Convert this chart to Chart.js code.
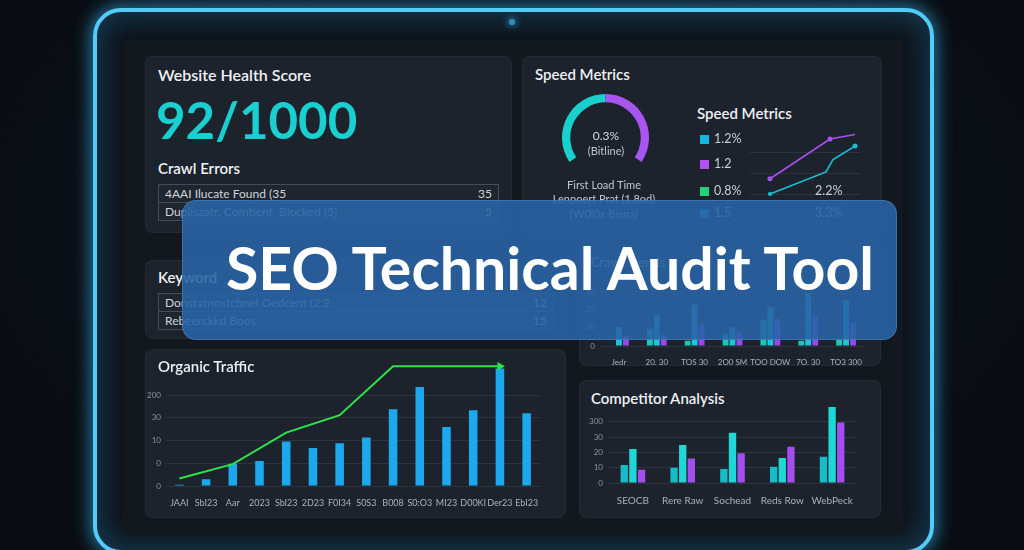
<!DOCTYPE html>
<html>
<head>
<meta charset="utf-8">
<script src="https://cdn.jsdelivr.net/npm/chart.js@4.4.0/dist/chart.umd.min.js"></script>
<style>
  html, body { margin: 0; padding: 0; width: 1024px; height: 550px; overflow: hidden; }
  body { background: radial-gradient(ellipse at 50% 40%, #101722 0%, #090d13 75%); font-family: Lato, "Noto Sans", sans-serif; position: relative; }
  .abs { position: absolute; }
  #frame { left: 93px; top: 8px; width: 833px; height: 538px; border: 4px solid #52cbf7; border-radius: 28px;
           box-shadow: 0 0 16px 4px rgba(56,180,240,.55), inset 0 0 28px 6px rgba(40,150,210,.30); background: #0d1219; }
  #screen { left: 123px; top: 40px; width: 780px; height: 495px; background: #13181f; border-radius: 3px; }
  #cam { left: 509px; top: 19px; width: 6px; height: 6px; border-radius: 50%; background: #2a8fb8; box-shadow: 0 0 6px 2px rgba(60,170,230,.5); }
  .panel { background: #1d232c; border-radius: 8px; border: 1px solid rgba(255,255,255,.04); box-sizing: border-box; }
  .txt { white-space: nowrap; }
  .title { color: #eef1f4; font-size: 15px; font-weight: 600; }
  .row { box-sizing: border-box; border: 1px solid #454d59; background: #20262f; color: #cfd4da; font-size: 12px; line-height: 17px; padding: 0 6px; }
  .row span { float: right; }
  .gray { color: #bfc5cd; font-size: 11px; }
  .leg { color: #c9ced5; font-size: 12.5px; }
  .sq { width: 9px; height: 9px; }
  #banner { left: 182px; top: 200px; width: 715px; height: 140px; border-radius: 14px; background: rgba(40,100,166,.89);
            border: 1px solid rgba(130,180,235,.25); box-sizing: border-box; }
  #bannerText { left: 226px; top: 229px; color: #ffffff; font-size: 59px; font-weight: 700; line-height: 78px; }
  canvas { display: block; }
</style>
</head>
<body>
<div id="frame" class="abs"></div>
<div id="cam" class="abs"></div>
<div id="screen" class="abs"></div>

<!-- panels -->
<div class="abs panel" style="left:145px;top:56px;width:367px;height:177px"></div>
<div class="abs panel" style="left:522px;top:56px;width:360px;height:177px"></div>
<div class="abs panel" style="left:145px;top:260px;width:421px;height:79px"></div>
<div class="abs panel" style="left:579px;top:245px;width:302px;height:121px"></div>
<div class="abs panel" style="left:145px;top:349px;width:421px;height:169px"></div>
<div class="abs panel" style="left:579px;top:380px;width:302px;height:138px"></div>

<!-- health score -->
<div class="abs txt title" style="left:158px;top:64px;font-size:16px;line-height:22px">Website Health Score</div>
<div class="abs txt" style="left:156px;top:92px;font-size:51px;font-weight:700;line-height:56px;color:#19cfcf">92/1000</div>
<div class="abs txt title" style="left:158px;top:158px;line-height:20px">Crawl Errors</div>
<div class="abs row" style="left:158px;top:184px;width:341px;height:19px">4AAI Ilucate Found (35<span>35</span></div>
<div class="abs row" style="left:158px;top:202px;width:341px;height:19px">Dupliszatr. Comtient &nbsp;Blocked (5)<span>5</span></div>

<!-- keyword -->
<div class="abs txt title" style="left:158px;top:267px;line-height:20px">Keyword</div>
<div class="abs row" style="left:158px;top:293px;width:396px;height:19px">Donstatnostcbnel Oedcent (2.2<span>12</span></div>
<div class="abs row" style="left:158px;top:311px;width:396px;height:19px">Rebeerckkd Boos<span>15</span></div>

<!-- speed metrics -->
<div class="abs txt title" style="left:535px;top:63px;line-height:22px">Speed Metrics</div>
<div class="abs" style="left:562px;top:94px"><canvas id="gauge" width="87" height="68"></canvas></div>
<div class="abs txt gray" style="left:566px;top:128px;width:80px;text-align:center;font-size:12px;line-height:16px;color:#d5d9df">0.3%</div>
<div class="abs txt gray" style="left:566px;top:143px;width:80px;text-align:center;line-height:16px">(Bitline)</div>
<div class="abs txt gray" style="left:544px;top:177px;width:120px;text-align:center;line-height:15px">First Load Time</div>
<div class="abs txt gray" style="left:534px;top:191px;width:140px;text-align:center;line-height:15px">Lenpoert Prat (1.8od)</div>
<div class="abs txt gray" style="left:544px;top:206px;width:120px;text-align:center;line-height:15px">(W0l0x Biena)</div>

<div class="abs txt title" style="left:697px;top:102px;line-height:22px">Speed Metrics</div>
<div class="abs sq" style="left:700px;top:135px;background:#13b6e0"></div>
<div class="abs txt leg" style="left:714px;top:131px;line-height:16px">1.2%</div>
<div class="abs sq" style="left:700px;top:160px;background:#b052f0"></div>
<div class="abs txt leg" style="left:714px;top:156px;line-height:16px">1.2</div>
<div class="abs sq" style="left:700px;top:187px;background:#22d27a"></div>
<div class="abs txt leg" style="left:714px;top:183px;line-height:16px">0.8%</div>
<div class="abs sq" style="left:700px;top:209px;background:#1aa6c8"></div>
<div class="abs txt leg" style="left:714px;top:205px;line-height:16px">1.5</div>
<div class="abs txt leg" style="left:815px;top:183px;line-height:16px">2.2%</div>
<div class="abs txt leg" style="left:815px;top:205px;line-height:16px">3.3%</div>
<div class="abs" style="left:745px;top:120px"><canvas id="speed" width="120" height="80"></canvas></div>

<!-- middle right panel -->
<div class="abs txt title" style="left:591px;top:252px;line-height:20px;font-size:13px;color:#9aa3ad">Crawl Trends</div>
<div class="abs" style="left:579px;top:245px"><canvas id="mid" width="302" height="121"></canvas></div>

<!-- organic traffic -->
<div class="abs" style="left:145px;top:349px"><canvas id="traffic" width="421" height="169"></canvas></div>
<div class="abs txt title" style="left:158px;top:356px;line-height:20px">Organic Traffic</div>

<!-- competitor -->
<div class="abs txt title" style="left:591px;top:388px;line-height:20px">Competitor Analysis</div>
<div class="abs" style="left:579px;top:380px"><canvas id="comp" width="302" height="138"></canvas></div>

<!-- banner -->
<div id="banner" class="abs"></div>
<div id="bannerText" class="abs txt">SEO Technical Audit Tool</div>

<script>
// organic traffic
const trafficLabels = ['JAAI', 'SbI23', 'Aar', '2023', 'SbI23', '2D23', 'F0I34', 'S0S3', 'B008', 'S0:O3', 'MI23', 'D00KI', 'Der23', 'EbI23'];
const trafficBars = [0.6, 3, 9.8, 11, 19.6, 16.7, 18.8, 21.4, 33.8, 43.6, 26, 33.3, 51.7, 32];
const trafficTrend = [3.3, null, 9.6, null, 23.5, null, 31.2, null, 52.7, null, null, null, 52.7, null];
const trafficTicks = [0, 10, 20, 30, 40];
const trafficTickLabels = ['0', '0', '10', '30', '200'];

// competitor analysis
const compLabels = ['SEOCB', 'Rere Raw', 'Sochead', 'Reds Row', 'WebPeck'];
const compA = [11.8, 10, 9.2, 10.7, 17.2];
const compB = [22.2, 24.9, 32.9, 16.3, 49.7];
const compC = [8.6, 16, 19.5, 23.7, 39.6];
const compTicks = [0, 10, 20, 30, 40];
const compTickLabels = ['0', '10', '20', '30', '300'];

// middle panel
const midLabels = ['Jedr', '20. 30', 'TOS 30', '2O0 SM', 'TOO DOW', '7O. 30', 'TO3 300'];
const midA = [null, 9.5, 2.9, 6.7, 14.2, 2.9, 3.7];
const midB = [10.5, 16.9, 22.7, 10.2, 21.2, 29, 24.9];
const midC = [5.4, 6, 12.2, 7.4, 15, 16.5, 12.7];
const midTicks = [0, 10, 20, 30];
const midTickLabels = ['0', '10', '20', '30'];

// speed metrics
const gaugeValues = [50, 50];
const purpleX = [2, 8, 10.5];
const purpleY = [0.73, 2.64, 2.86];
const cyanX = [2, 7.6, 8.3, 10.5];
const cyanY = [0, 1.06, 1.65, 2.3];
const speedGrid = [0, 1, 2];

Chart.defaults.font.family = 'Lato, "Noto Sans", sans-serif';
Chart.defaults.animation = false;

const GRID = 'rgba(255,255,255,0.08)';
const fixTicks = vals => scale => { scale.ticks = vals.map(v => ({ value: v })); };

function barOpts(yMax, yTicks, yLabels, yWidth, xHeight, pad, xFont) {
  return {
    responsive: false,
    maintainAspectRatio: false,
    layout: { padding: pad },
    plugins: { legend: { display: false }, tooltip: { enabled: false } },
    scales: {
      x: {
        grid: { display: false },
        border: { display: false },
        ticks: { color: '#aab1bb', font: { size: xFont }, padding: 4, maxRotation: 0, autoSkip: false },
        afterFit: s => { s.height = xHeight; }
      },
      y: {
        min: 0, max: yMax,
        afterBuildTicks: fixTicks(yTicks),
        afterFit: s => { s.width = yWidth; },
        grid: { color: GRID, drawTicks: false },
        border: { display: false },
        ticks: { color: '#8b939e', font: { size: 8 }, padding: 5, callback: (v, i) => yLabels[i] }
      }
    }
  };
}

// Organic traffic: bars + trend arrow
new Chart(document.getElementById('traffic'), {
  data: {
    labels: trafficLabels,
    datasets: [
      {
        type: 'line', order: 0, data: trafficTrend, spanGaps: true,
        borderColor: '#2ee24c', borderWidth: 2, tension: 0,
        pointStyle: 'triangle', pointRotation: 90,
        pointRadius: ctx => ctx.dataIndex === 12 ? 5 : 0,
        pointBackgroundColor: '#2ee24c', pointBorderWidth: 0
      },
      { type: 'bar', order: 1, data: trafficBars, backgroundColor: '#1ba8ee', barPercentage: 0.32, categoryPercentage: 1 }
    ]
  },
  options: barOpts(56, trafficTicks, trafficTickLabels, 21, 32, { top: 5, right: 26 }, 9)
});

// Competitor analysis
new Chart(document.getElementById('comp'), {
  type: 'bar',
  data: {
    labels: compLabels,
    datasets: [
      { data: compA, backgroundColor: '#17bcc9', barPercentage: 0.85, categoryPercentage: 0.52 },
      { data: compB, backgroundColor: '#1ed7d6', barPercentage: 0.85, categoryPercentage: 0.52 },
      { data: compC, backgroundColor: '#a54ef0', barPercentage: 0.85, categoryPercentage: 0.52 }
    ]
  },
  options: barOpts(61, compTicks, compTickLabels, 29, 35, { right: 24 }, 10)
});

// Middle panel (behind the banner)
new Chart(document.getElementById('mid'), {
  type: 'bar',
  data: {
    labels: midLabels,
    datasets: [
      { data: midA, backgroundColor: '#17c9b6', barPercentage: 0.85, categoryPercentage: 0.55 },
      { data: midB, backgroundColor: '#1cc4dc', barPercentage: 0.85, categoryPercentage: 0.55 },
      { data: midC, backgroundColor: '#9b45ec', barPercentage: 0.85, categoryPercentage: 0.55 }
    ]
  },
  options: barOpts(50, midTicks, midTickLabels, 21, 20, { right: 16 }, 8)
});

// Gauge
new Chart(document.getElementById('gauge'), {
  type: 'doughnut',
  data: { datasets: [{ data: gaugeValues, backgroundColor: ['#19d0cc', '#a955f2'], borderWidth: 0 }] },
  options: {
    responsive: false, rotation: -124, circumference: 248, cutout: '81%',
    plugins: { legend: { display: false }, tooltip: { enabled: false } }
  }
});

// Speed trend lines
new Chart(document.getElementById('speed'), {
  type: 'line',
  data: {
    datasets: [
      {
        data: purpleX.map((x, i) => ({ x, y: purpleY[i] })),
        borderColor: '#a552f0', borderWidth: 1.6, backgroundColor: '#a552f0',
        pointRadius: [2.5, 2.5, 0], pointBorderWidth: 0
      },
      {
        data: cyanX.map((x, i) => ({ x, y: cyanY[i] })),
        borderColor: '#18c2d8', borderWidth: 1.6, backgroundColor: '#18c2d8',
        pointRadius: [2, 0, 0, 2.5], pointBorderWidth: 0
      }
    ]
  },
  options: {
    responsive: false,
    clip: false,
    layout: { padding: { left: 5, right: 5, bottom: 6 } },
    plugins: { legend: { display: false }, tooltip: { enabled: false } },
    scales: {
      x: { type: 'linear', min: 0, max: 11, display: false },
      y: {
        min: 0, max: 3.36,
        afterBuildTicks: fixTicks(speedGrid),
        afterFit: s => { s.width = 0; },
        grid: { color: GRID, drawTicks: false },
        border: { display: false },
        ticks: { display: false }
      }
    }
  }
});
</script>
</body>
</html>
